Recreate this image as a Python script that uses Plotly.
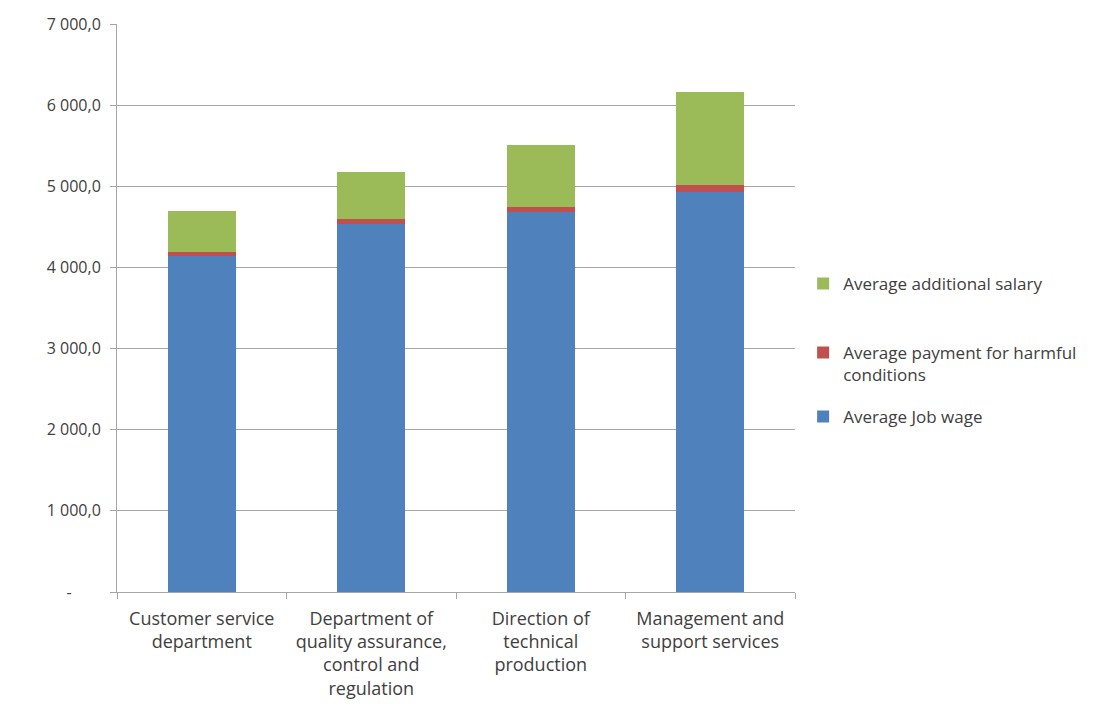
import plotly.graph_objects as go

categories = [
    "Customer service<br>department",
    "Department of<br>quality assurance,<br>control and<br>regulation",
    "Direction of<br>technical<br>production",
    "Management and<br>support services",
]
job_wage = [4140, 4535, 4685, 4930]
harmful = [55, 65, 55, 90]
additional = [505, 580, 775, 1145]

y_tickvals = [0, 1000, 2000, 3000, 4000, 5000, 6000, 7000]
y_ticktext = ["-" + "\u00a0" * 7, "1 000,0", "2 000,0", "3 000,0", "4 000,0",
              "5 000,0", "6 000,0", "7 000,0"]

font_family = "'Open Sans', Lato, sans-serif"
text_color = "#404040"

fig = go.Figure()
fig.add_trace(go.Bar(name="Average Job wage", x=categories, y=job_wage,
                     marker=dict(color="#4F81BD", line=dict(width=0)),
                     legend="legend3", showlegend=True))
fig.add_trace(go.Bar(name="Average payment for harmful<br>conditions", x=categories, y=harmful,
                     marker=dict(color="#C0504D", line=dict(width=0)),
                     legend="legend2", showlegend=True))
fig.add_trace(go.Bar(name="Average additional salary", x=categories, y=additional,
                     marker=dict(color="#9BBB59", line=dict(width=0)),
                     legend="legend", showlegend=True))

legend_common = dict(
    x=1.012, xanchor="left", yanchor="top",
    font=dict(size=17, color=text_color),
    itemwidth=30, valign="top", bgcolor="rgba(0,0,0,0)",
    visible=True,
)

fig.update_layout(
    showlegend=True,
    barmode="stack",
    bargap=0.6,
    width=1109, height=711,
    paper_bgcolor="white", plot_bgcolor="white",
    margin=dict(l=117, r=314, t=24, b=119),
    font=dict(family=font_family, size=17, color=text_color),
    legend=dict(y=0.574, **legend_common),
    legend2=dict(y=0.4525, **legend_common),
    legend3=dict(y=0.34, **legend_common),
    xaxis=dict(
        showline=True, linecolor="#A6A6A6", linewidth=1,
        ticks="outside", tickson="boundaries", ticklen=6, tickcolor="#A6A6A6",
        tickfont=dict(size=18, color=text_color),
        ticklabelstandoff=10,
        showgrid=False,
    ),
    yaxis=dict(
        range=[0, 7000],
        tickvals=y_tickvals, ticktext=y_ticktext,
        showline=True, linecolor="#A6A6A6", linewidth=1,
        ticks="outside", ticklen=6, tickcolor="#A6A6A6",
        showgrid=True, gridcolor="#A6A6A6", gridwidth=1,
        tickfont=dict(size=16, color=text_color),
        ticklabelstandoff=6,
        zeroline=False,
    ),
)

fig.write_html("out.html")
